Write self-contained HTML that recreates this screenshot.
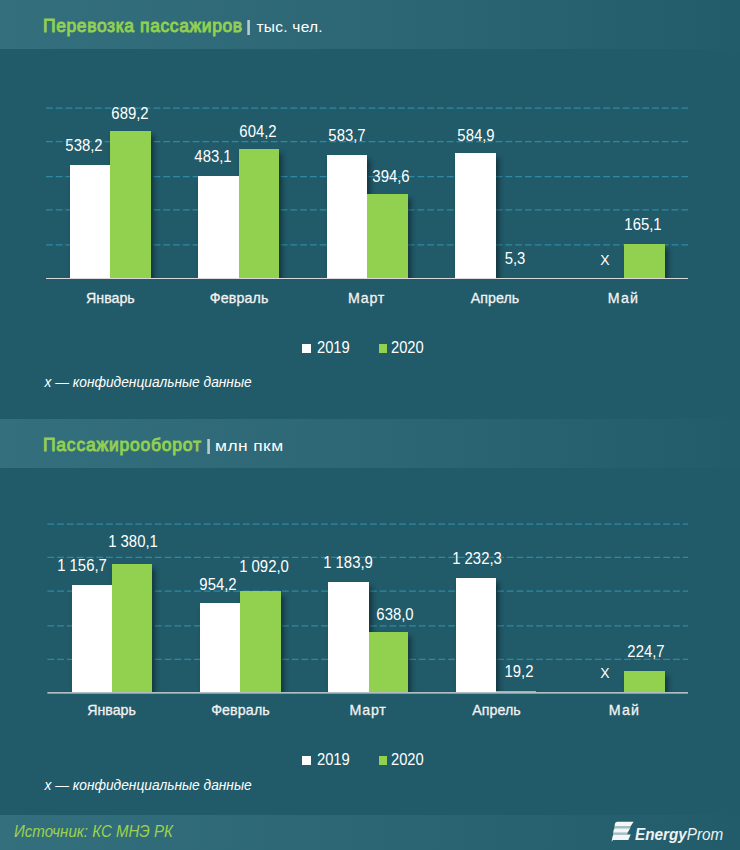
<!DOCTYPE html>
<html><head><meta charset="utf-8"><style>
html,body{margin:0;padding:0;}
body{width:740px;height:850px;position:relative;overflow:hidden;background:#215a69;font-family:"Liberation Sans", sans-serif;}
.t{position:absolute;white-space:pre;}
</style></head><body>
<div style="position:absolute;left:0;top:0px;width:740px;height:49px;background:linear-gradient(90deg,#346f7d 0%,#2d6776 50%,#225b6a 100%);"></div>
<div class="t" style="left:43.00px;top:18px;font-size:17.5px;line-height:17.5px;color:#92d050;font-weight:400;font-style:normal;letter-spacing:0.6px;-webkit-text-stroke:0.9px #92d050;">Перевозка пассажиров</div>
<div style="position:absolute;left:247.2px;top:19.5px;width:3px;height:15.5px;background:linear-gradient(90deg,#5fa9d6 0%,#b9c9cc 50%,#d2b089 100%);"></div>
<div class="t" style="left:256.50px;top:19px;font-size:15.5px;line-height:15.5px;color:#fff;font-weight:400;font-style:normal;letter-spacing:0.25px;transform:scaleX(1.0);transform-origin:0 0;">тыс. чел.</div>
<svg style="position:absolute;left:0;top:0" width="740" height="850"><line x1="46" y1="108.1" x2="688" y2="108.1" stroke="#3089a2" stroke-width="1.3" stroke-dasharray="6.8 2.975"/><line x1="46" y1="141.6" x2="688" y2="141.6" stroke="#3089a2" stroke-width="1.3" stroke-dasharray="6.8 2.975"/><line x1="46" y1="176.6" x2="688" y2="176.6" stroke="#3089a2" stroke-width="1.3" stroke-dasharray="6.8 2.975"/><line x1="46" y1="209.9" x2="688" y2="209.9" stroke="#3089a2" stroke-width="1.3" stroke-dasharray="6.8 2.975"/><line x1="46" y1="244.9" x2="688" y2="244.9" stroke="#3089a2" stroke-width="1.3" stroke-dasharray="6.8 2.975"/></svg>
<div style="position:absolute;left:46px;top:60px;width:662px;height:218px;overflow:hidden;"><div style="position:absolute;left:24px;top:104.6px;width:40px;height:114.4px;box-shadow:3px 3.5px 5px rgba(0,0,0,0.42);"></div><div style="position:absolute;left:64px;top:71.1px;width:41px;height:147.9px;box-shadow:3px 3.5px 5px rgba(0,0,0,0.42);"></div><div style="position:absolute;left:152px;top:115.9px;width:41px;height:103.1px;box-shadow:3px 3.5px 5px rgba(0,0,0,0.42);"></div><div style="position:absolute;left:193px;top:89.1px;width:40px;height:129.9px;box-shadow:3px 3.5px 5px rgba(0,0,0,0.42);"></div><div style="position:absolute;left:281px;top:94.9px;width:40px;height:124.1px;box-shadow:3px 3.5px 5px rgba(0,0,0,0.42);"></div><div style="position:absolute;left:321px;top:133.8px;width:41px;height:85.19999999999999px;box-shadow:3px 3.5px 5px rgba(0,0,0,0.42);"></div><div style="position:absolute;left:409px;top:93.4px;width:41px;height:125.6px;box-shadow:3px 3.5px 5px rgba(0,0,0,0.42);"></div><div style="position:absolute;left:578px;top:184.2px;width:41px;height:34.80000000000001px;box-shadow:3px 3.5px 5px rgba(0,0,0,0.42);"></div><div style="position:absolute;left:24px;top:104.6px;width:40px;height:114.4px;background:#fff;"></div><div style="position:absolute;left:64px;top:71.1px;width:41px;height:147.9px;background:#92d050;"></div><div style="position:absolute;left:152px;top:115.9px;width:41px;height:103.1px;background:#fff;"></div><div style="position:absolute;left:193px;top:89.1px;width:40px;height:129.9px;background:#92d050;"></div><div style="position:absolute;left:281px;top:94.9px;width:40px;height:124.1px;background:#fff;"></div><div style="position:absolute;left:321px;top:133.8px;width:41px;height:85.19999999999999px;background:#92d050;"></div><div style="position:absolute;left:409px;top:93.4px;width:41px;height:125.6px;background:#fff;"></div><div style="position:absolute;left:578px;top:184.2px;width:41px;height:34.80000000000001px;background:#92d050;"></div></div>
<svg style="position:absolute;left:0;top:0" width="740" height="850"><line x1="46" y1="278.5" x2="688" y2="278.5" stroke="#d9d9d9" stroke-width="1"/></svg>
<div class="t" style="left:24.40px;width:120px;text-align:center;top:138px;font-size:16px;line-height:16px;color:#fff;font-weight:400;font-style:normal;letter-spacing:0px;transform:scaleX(0.93);">538,2</div>
<div class="t" style="left:69.50px;width:120px;text-align:center;top:106px;font-size:16px;line-height:16px;color:#fff;font-weight:400;font-style:normal;letter-spacing:0px;transform:scaleX(0.93);">689,2</div>
<div class="t" style="left:152.80px;width:120px;text-align:center;top:149px;font-size:16px;line-height:16px;color:#fff;font-weight:400;font-style:normal;letter-spacing:0px;transform:scaleX(0.93);">483,1</div>
<div class="t" style="left:197.80px;width:120px;text-align:center;top:124px;font-size:16px;line-height:16px;color:#fff;font-weight:400;font-style:normal;letter-spacing:0px;transform:scaleX(0.93);">604,2</div>
<div class="t" style="left:286.90px;width:120px;text-align:center;top:128px;font-size:16px;line-height:16px;color:#fff;font-weight:400;font-style:normal;letter-spacing:0px;transform:scaleX(0.93);">583,7</div>
<div class="t" style="left:330.80px;width:120px;text-align:center;top:169px;font-size:16px;line-height:16px;color:#fff;font-weight:400;font-style:normal;letter-spacing:0px;transform:scaleX(0.93);">394,6</div>
<div class="t" style="left:415.60px;width:120px;text-align:center;top:128px;font-size:16px;line-height:16px;color:#fff;font-weight:400;font-style:normal;letter-spacing:0px;transform:scaleX(0.93);">584,9</div>
<div class="t" style="left:454.70px;width:120px;text-align:center;top:251px;font-size:16px;line-height:16px;color:#fff;font-weight:400;font-style:normal;letter-spacing:0px;transform:scaleX(0.93);">5,3</div>
<div class="t" style="left:583.40px;width:120px;text-align:center;top:217px;font-size:16px;line-height:16px;color:#fff;font-weight:400;font-style:normal;letter-spacing:0px;transform:scaleX(0.93);">165,1</div>
<div class="t" style="left:584.90px;width:40px;text-align:center;top:252px;font-size:15.5px;line-height:15.5px;color:#fff;font-weight:400;font-style:normal;letter-spacing:0px;transform:scaleX(0.9);">X</div>
<div class="t" style="left:50.40px;width:120px;text-align:center;top:291px;font-size:14.2px;line-height:14.2px;color:#f2f2f2;font-weight:400;font-style:normal;letter-spacing:0.0px;-webkit-text-stroke:0.3px #f2f2f2;">Январь</div>
<div class="t" style="left:179.20px;width:120px;text-align:center;top:291px;font-size:14.2px;line-height:14.2px;color:#f2f2f2;font-weight:400;font-style:normal;letter-spacing:0.15px;-webkit-text-stroke:0.3px #f2f2f2;">Февраль</div>
<div class="t" style="left:306.60px;width:120px;text-align:center;top:291px;font-size:14.2px;line-height:14.2px;color:#f2f2f2;font-weight:400;font-style:normal;letter-spacing:0.8px;-webkit-text-stroke:0.3px #f2f2f2;">Март</div>
<div class="t" style="left:435.00px;width:120px;text-align:center;top:291px;font-size:14.2px;line-height:14.2px;color:#f2f2f2;font-weight:400;font-style:normal;letter-spacing:0.05px;-webkit-text-stroke:0.3px #f2f2f2;">Апрель</div>
<div class="t" style="left:563.50px;width:120px;text-align:center;top:291px;font-size:14.2px;line-height:14.2px;color:#f2f2f2;font-weight:400;font-style:normal;letter-spacing:1.3px;-webkit-text-stroke:0.3px #f2f2f2;">Май</div>
<div style="position:absolute;left:301.7px;top:344.2px;width:9px;height:9px;background:#fff;"></div>
<div class="t" style="left:316.50px;top:340px;font-size:16px;line-height:16px;color:#fff;font-weight:400;font-style:normal;letter-spacing:0px;transform:scaleX(0.92);transform-origin:0 0;">2019</div>
<div style="position:absolute;left:378.6px;top:344.2px;width:8.5px;height:9px;background:#92d050;"></div>
<div class="t" style="left:390.90px;top:340px;font-size:16px;line-height:16px;color:#fff;font-weight:400;font-style:normal;letter-spacing:0px;transform:scaleX(0.92);transform-origin:0 0;">2020</div>
<div class="t" style="left:44.50px;top:376px;font-size:13.75px;line-height:13.75px;color:#fff;font-weight:400;font-style:italic;letter-spacing:0px;">x — конфиденциальные данные</div>
<div style="position:absolute;left:0;top:419px;width:740px;height:49px;background:linear-gradient(90deg,#346f7d 0%,#2d6776 50%,#225b6a 100%);"></div>
<div class="t" style="left:43.00px;top:437px;font-size:17.5px;line-height:17.5px;color:#92d050;font-weight:400;font-style:normal;letter-spacing:0.78px;-webkit-text-stroke:0.9px #92d050;">Пассажирооборот</div>
<div style="position:absolute;left:207px;top:438.5px;width:3px;height:15.5px;background:linear-gradient(90deg,#5fa9d6 0%,#b9c9cc 50%,#d2b089 100%);"></div>
<div class="t" style="left:214.60px;top:438px;font-size:15.5px;line-height:15.5px;color:#fff;font-weight:400;font-style:normal;letter-spacing:0.4px;transform:scaleX(1.12);transform-origin:0 0;">млн пкм</div>
<svg style="position:absolute;left:0;top:0" width="740" height="850"><line x1="47.4" y1="524.1" x2="688" y2="524.1" stroke="#3089a2" stroke-width="1.3" stroke-dasharray="6.8 2.975"/><line x1="47.4" y1="557.4" x2="688" y2="557.4" stroke="#3089a2" stroke-width="1.3" stroke-dasharray="6.8 2.975"/><line x1="47.4" y1="591.1" x2="688" y2="591.1" stroke="#3089a2" stroke-width="1.3" stroke-dasharray="6.8 2.975"/><line x1="47.4" y1="625.9" x2="688" y2="625.9" stroke="#3089a2" stroke-width="1.3" stroke-dasharray="6.8 2.975"/><line x1="47.4" y1="659.4" x2="688" y2="659.4" stroke="#3089a2" stroke-width="1.3" stroke-dasharray="6.8 2.975"/></svg>
<div style="position:absolute;left:47.4px;top:470px;width:660.6px;height:222px;overflow:hidden;"><div style="position:absolute;left:25.1px;top:115.10000000000002px;width:39.5px;height:107.89999999999998px;box-shadow:3px 3.5px 5px rgba(0,0,0,0.42);"></div><div style="position:absolute;left:64.6px;top:93.70000000000005px;width:40px;height:129.29999999999995px;box-shadow:3px 3.5px 5px rgba(0,0,0,0.42);"></div><div style="position:absolute;left:152.6px;top:132.79999999999995px;width:40px;height:90.20000000000005px;box-shadow:3px 3.5px 5px rgba(0,0,0,0.42);"></div><div style="position:absolute;left:192.6px;top:120.5px;width:41px;height:102.5px;box-shadow:3px 3.5px 5px rgba(0,0,0,0.42);"></div><div style="position:absolute;left:280.6px;top:112.0px;width:41px;height:111.0px;box-shadow:3px 3.5px 5px rgba(0,0,0,0.42);"></div><div style="position:absolute;left:321.6px;top:162.10000000000002px;width:39px;height:60.89999999999998px;box-shadow:3px 3.5px 5px rgba(0,0,0,0.42);"></div><div style="position:absolute;left:409.1px;top:107.89999999999998px;width:39.5px;height:115.10000000000002px;box-shadow:3px 3.5px 5px rgba(0,0,0,0.42);"></div><div style="position:absolute;left:448.6px;top:221px;width:40px;height:2px;box-shadow:3px 3.5px 5px rgba(0,0,0,0.42);"></div><div style="position:absolute;left:576.6px;top:201.10000000000002px;width:41px;height:21.899999999999977px;box-shadow:3px 3.5px 5px rgba(0,0,0,0.42);"></div><div style="position:absolute;left:25.1px;top:115.10000000000002px;width:39.5px;height:107.89999999999998px;background:#fff;"></div><div style="position:absolute;left:64.6px;top:93.70000000000005px;width:40px;height:129.29999999999995px;background:#92d050;"></div><div style="position:absolute;left:152.6px;top:132.79999999999995px;width:40px;height:90.20000000000005px;background:#fff;"></div><div style="position:absolute;left:192.6px;top:120.5px;width:41px;height:102.5px;background:#92d050;"></div><div style="position:absolute;left:280.6px;top:112.0px;width:41px;height:111.0px;background:#fff;"></div><div style="position:absolute;left:321.6px;top:162.10000000000002px;width:39px;height:60.89999999999998px;background:#92d050;"></div><div style="position:absolute;left:409.1px;top:107.89999999999998px;width:39.5px;height:115.10000000000002px;background:#fff;"></div><div style="position:absolute;left:448.6px;top:221px;width:40px;height:2px;background:#92d050;"></div><div style="position:absolute;left:576.6px;top:201.10000000000002px;width:41px;height:21.899999999999977px;background:#92d050;"></div></div>
<svg style="position:absolute;left:0;top:0" width="740" height="850"><line x1="47.4" y1="692.9" x2="688" y2="692.9" stroke="#e2e2e2" stroke-width="1.4"/></svg>
<div class="t" style="left:22.20px;width:120px;text-align:center;top:558px;font-size:16px;line-height:16px;color:#fff;font-weight:400;font-style:normal;letter-spacing:0px;transform:scaleX(0.93);">1 156,7</div>
<div class="t" style="left:73.10px;width:120px;text-align:center;top:534px;font-size:16px;line-height:16px;color:#fff;font-weight:400;font-style:normal;letter-spacing:0px;transform:scaleX(0.93);">1 380,1</div>
<div class="t" style="left:158.40px;width:120px;text-align:center;top:577px;font-size:16px;line-height:16px;color:#fff;font-weight:400;font-style:normal;letter-spacing:0px;transform:scaleX(0.93);">954,2</div>
<div class="t" style="left:204.20px;width:120px;text-align:center;top:559px;font-size:16px;line-height:16px;color:#fff;font-weight:400;font-style:normal;letter-spacing:0px;transform:scaleX(0.93);">1 092,0</div>
<div class="t" style="left:287.90px;width:120px;text-align:center;top:555px;font-size:16px;line-height:16px;color:#fff;font-weight:400;font-style:normal;letter-spacing:0px;transform:scaleX(0.93);">1 183,9</div>
<div class="t" style="left:334.60px;width:120px;text-align:center;top:607px;font-size:16px;line-height:16px;color:#fff;font-weight:400;font-style:normal;letter-spacing:0px;transform:scaleX(0.93);">638,0</div>
<div class="t" style="left:416.50px;width:120px;text-align:center;top:551px;font-size:16px;line-height:16px;color:#fff;font-weight:400;font-style:normal;letter-spacing:0px;transform:scaleX(0.93);">1 232,3</div>
<div class="t" style="left:459.10px;width:120px;text-align:center;top:664px;font-size:16px;line-height:16px;color:#fff;font-weight:400;font-style:normal;letter-spacing:0px;transform:scaleX(0.93);">19,2</div>
<div class="t" style="left:586.20px;width:120px;text-align:center;top:644px;font-size:16px;line-height:16px;color:#fff;font-weight:400;font-style:normal;letter-spacing:0px;transform:scaleX(0.93);">224,7</div>
<div class="t" style="left:584.90px;width:40px;text-align:center;top:665px;font-size:15.5px;line-height:15.5px;color:#fff;font-weight:400;font-style:normal;letter-spacing:0px;transform:scaleX(0.9);">X</div>
<div class="t" style="left:51.60px;width:120px;text-align:center;top:703px;font-size:14.2px;line-height:14.2px;color:#f2f2f2;font-weight:400;font-style:normal;letter-spacing:0.0px;-webkit-text-stroke:0.3px #f2f2f2;">Январь</div>
<div class="t" style="left:180.50px;width:120px;text-align:center;top:703px;font-size:14.2px;line-height:14.2px;color:#f2f2f2;font-weight:400;font-style:normal;letter-spacing:0.15px;-webkit-text-stroke:0.3px #f2f2f2;">Февраль</div>
<div class="t" style="left:308.00px;width:120px;text-align:center;top:703px;font-size:14.2px;line-height:14.2px;color:#f2f2f2;font-weight:400;font-style:normal;letter-spacing:0.8px;-webkit-text-stroke:0.3px #f2f2f2;">Март</div>
<div class="t" style="left:436.50px;width:120px;text-align:center;top:703px;font-size:14.2px;line-height:14.2px;color:#f2f2f2;font-weight:400;font-style:normal;letter-spacing:0.05px;-webkit-text-stroke:0.3px #f2f2f2;">Апрель</div>
<div class="t" style="left:564.50px;width:120px;text-align:center;top:703px;font-size:14.2px;line-height:14.2px;color:#f2f2f2;font-weight:400;font-style:normal;letter-spacing:1.3px;-webkit-text-stroke:0.3px #f2f2f2;">Май</div>
<div style="position:absolute;left:301.7px;top:756.2px;width:9px;height:9px;background:#fff;"></div>
<div class="t" style="left:316.50px;top:752px;font-size:16px;line-height:16px;color:#fff;font-weight:400;font-style:normal;letter-spacing:0px;transform:scaleX(0.92);transform-origin:0 0;">2019</div>
<div style="position:absolute;left:378.6px;top:756.2px;width:8.5px;height:9px;background:#92d050;"></div>
<div class="t" style="left:390.90px;top:752px;font-size:16px;line-height:16px;color:#fff;font-weight:400;font-style:normal;letter-spacing:0px;transform:scaleX(0.92);transform-origin:0 0;">2020</div>
<div class="t" style="left:44.50px;top:779px;font-size:13.75px;line-height:13.75px;color:#fff;font-weight:400;font-style:italic;letter-spacing:0px;">x — конфиденциальные данные</div>
<div style="position:absolute;left:0;top:815px;width:740px;height:35px;background:linear-gradient(90deg,#346f7d 0%,#2c6675 50%,#225b6a 100%);"></div>
<div class="t" style="left:14.00px;top:824px;font-size:16px;line-height:16px;color:#9dd24c;font-weight:400;font-style:italic;letter-spacing:0px;transform:scaleX(0.94);transform-origin:0 0;">Источник: КС МНЭ РК</div>
<svg style="position:absolute;left:608px;top:818px" width="28" height="26" viewBox="0 0 28 26">
<path d="M6.6,8.1 L22.8,8.1 L22.2,10.3 L6.0,10.3 Z" fill="#a3bec5"/>
<path d="M5.2,14.8 L19.6,14.8 L19.3,16.6 L4.9,16.6 Z" fill="#a3bec5"/>
<path d="M9.4,3.65 L25.6,3.65 L22.8,8.1 L6.6,8.1 Q6.7,5.2 7.6,4.4 Q8.3,3.65 9.4,3.65 Z" fill="#f4f7f7"/>
<path d="M6.6,10.3 L22.2,10.3 L19.6,14.8 L5.2,14.8 Q5.4,11.6 6.6,10.3 Z" fill="#f4f7f7"/>
<path d="M5.4,16.6 L22.7,16.6 L20.3,22.1 L5.0,22.1 L3.6,23.8 Q4.2,18.5 5.4,16.6 Z" fill="#f4f7f7"/>
</svg>
<div class="t" style="left:634.5px;top:826px;font-size:16.5px;line-height:16.5px;color:#eef2f3;font-style:italic;transform:scaleX(0.925);transform-origin:0 0;"><b>Energy</b>Prom</div>
</body></html>
